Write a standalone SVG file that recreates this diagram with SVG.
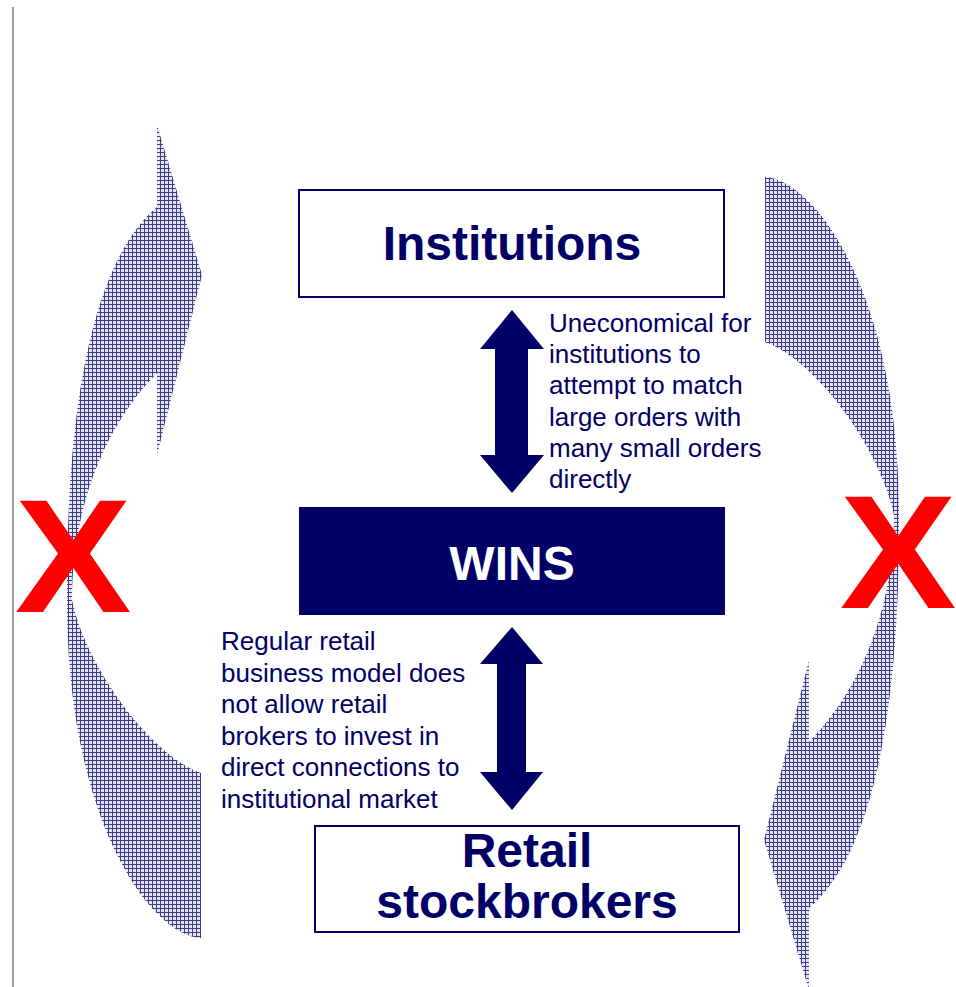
<svg xmlns="http://www.w3.org/2000/svg" width="956" height="987" viewBox="0 0 956 987">
  <defs>
    <pattern id="grid" patternUnits="userSpaceOnUse" width="4" height="4">
      <rect x="0" y="0" width="4" height="4" fill="#e4e4f0"/>
      <rect x="0" y="0" width="4" height="1" fill="#3c3c8c"/>
      <rect x="0" y="0" width="1" height="4" fill="#3c3c8c"/>
    </pattern>
    <path id="curvedArrow" d="M201,938 C150,935 67,820 67,600 C66,380 100,255 157,207 L157,125 L202,275 L157,455 L157,373 C110,420 72,500 72,600 C85,665 150,755 201,773 Z"/>
  </defs>
  <style>
    .box { fill: #ffffff; stroke: #000066; stroke-width: 2; }
    .dark { fill: #000066; }
    .title { font-family: "Liberation Sans", Arial, sans-serif; font-weight: bold; font-size: 48px; fill: #000066; text-anchor: middle; }
    .label { font-family: "Liberation Sans", Arial, sans-serif; font-size: 26px; fill: #000066; }
    .x { font-family: "Liberation Sans", Arial, sans-serif; font-weight: bold; font-size: 162px; fill: #ff0000; text-anchor: middle; }
    .swoosh { fill: url(#grid); }
  </style>

  <line x1="13" y1="7" x2="13" y2="987" stroke="#77778a" stroke-width="1.5"/>

  <g id="curved-arrows">
    <use href="#curvedArrow" class="swoosh"/>
    <use href="#curvedArrow" class="swoosh" transform="rotate(180 483 557.5)"/>
  </g>

  <g id="x-marks">
    <text class="x" transform="translate(73 612) scale(1.08 1)" x="0" y="0">X</text>
    <text class="x" transform="translate(898 608) scale(1.08 1)" x="0" y="0">X</text>
  </g>

  <g id="connectors">
    <polygon class="dark" points="512,310 544,349 528,349 528,455 544,455 512,493 480,455 495,455 495,349 480,349"/>
    <polygon class="dark" points="512,627 543,664 526,664 526,772 543,772 512,810 480,772 497,772 497,664 480,664"/>
  </g>

  <g id="institutions">
    <rect class="box" x="299" y="190" width="425" height="107"/>
    <text class="title" x="512" y="260">Institutions</text>
  </g>

  <g id="wins">
    <rect class="dark" x="299" y="507" width="426" height="108"/>
    <text class="title" x="512" y="580" style="fill:#ffffff">WINS</text>
  </g>

  <g id="retail">
    <rect class="box" x="315" y="826" width="424" height="106"/>
    <text class="title" x="527" y="867">Retail</text>
    <text class="title" x="527" y="918">stockbrokers</text>
  </g>

  <g id="label-top">
    <text class="label" x="549" y="332">Uneconomical for</text>
    <text class="label" x="549" y="363.2">institutions to</text>
    <text class="label" x="549" y="394.4">attempt to match</text>
    <text class="label" x="549" y="425.6">large orders with</text>
    <text class="label" x="549" y="456.8">many small orders</text>
    <text class="label" x="549" y="488">directly</text>
  </g>

  <g id="label-bottom">
    <text class="label" x="221" y="650">Regular retail</text>
    <text class="label" x="221" y="681.6">business model does</text>
    <text class="label" x="221" y="713.2">not allow retail</text>
    <text class="label" x="221" y="744.8">brokers to invest in</text>
    <text class="label" x="221" y="776.4">direct connections to</text>
    <text class="label" x="221" y="808">institutional market</text>
  </g>
</svg>
